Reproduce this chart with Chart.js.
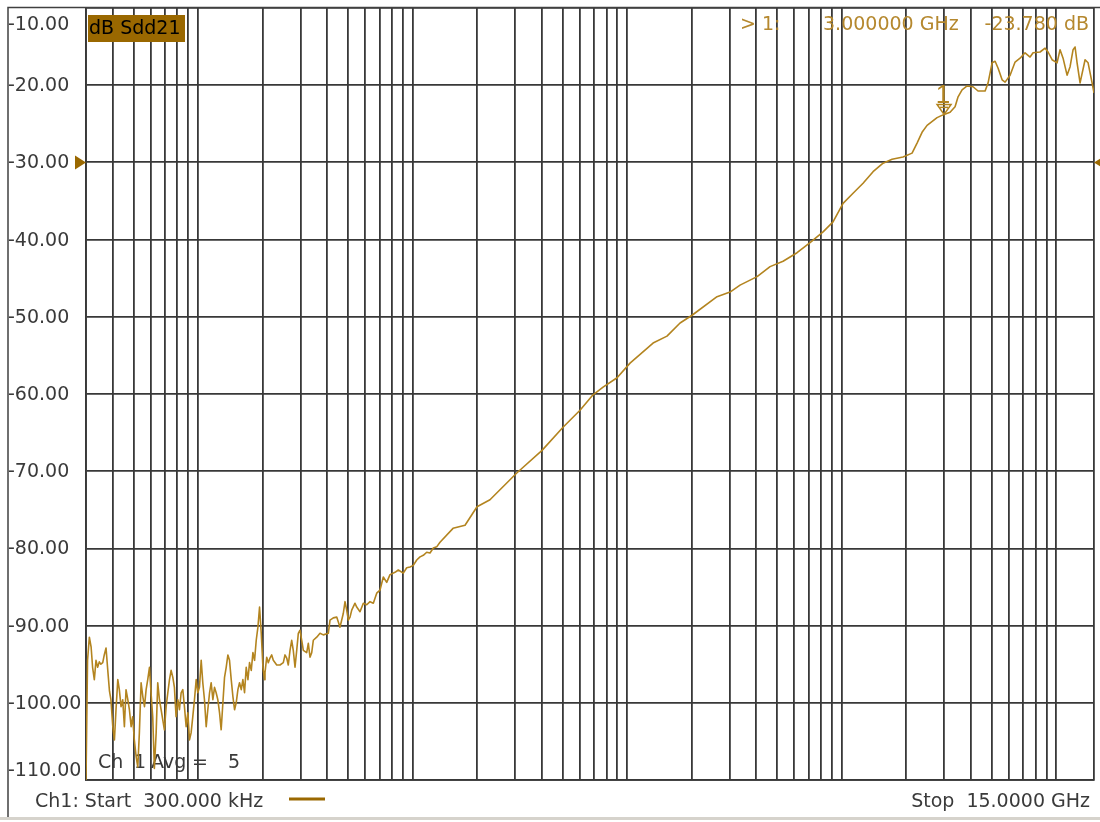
<!DOCTYPE html>
<html>
<head>
<meta charset="utf-8">
<script src="https://cdn.jsdelivr.net/npm/chart.js@4.4.1/dist/chart.umd.min.js"></script>
<style>
  html, body { margin: 0; padding: 0; background: #ffffff; overflow: hidden; }
  canvas { display: block; }
</style>
</head>
<body>
<canvas id="c" width="1100" height="822"></canvas>
<script>
// ---- data (frequency in MHz, Sdd21 in dB) ----
const freqMHz = [
  0.300,0.305,0.311,0.317,0.322,0.328,0.334,0.340,0.346,0.352,
  0.359,0.365,0.372,0.379,0.386,0.392,0.400,0.407,0.414,0.422,
  0.429,0.437,0.445,0.453,0.461,0.470,0.478,0.487,0.495,0.504,
  0.514,0.523,0.532,0.542,0.552,0.562,0.572,0.582,0.593,0.603,
  0.614,0.625,0.637,0.648,0.660,0.672,0.684,0.696,0.709,0.722,
  0.735,0.748,0.762,0.775,0.789,0.804,0.818,0.833,0.848,0.863,
  0.879,0.895,0.911,0.927,0.944,0.961,0.979,0.996,1.014,1.033,
  1.051,1.070,1.090,1.109,1.130,1.150,1.171,1.192,1.213,1.235,
  1.258,1.280,1.304,1.327,1.351,1.376,1.400,1.426,1.452,1.478,
  1.504,1.532,1.559,1.588,1.616,1.645,1.675,1.706,1.736,1.768,
  1.800,1.832,1.865,1.899,1.933,1.968,2.004,2.040,
  2.049,2.087,2.123,2.162,2.202,2.240,2.324,2.407,2.494,2.540,
  2.587,2.631,2.680,2.729,2.776,2.828,2.880,2.930,2.984,3.039,
  3.092,3.206,3.262,3.322,3.383,3.442,3.570,3.698,3.832,4.043,
  4.118,4.266,4.425,4.584,4.750,4.837,4.926,5.012,5.104,5.198,
  5.385,5.484,5.682,5.887,6.106,6.326,6.554,6.797,7.042,7.296,
  7.567,7.840,8.272,8.571,9.043,9.379,9.717,10.067,10.442,10.818,
  11.208,11.624,12.044,12.478,12.941,13.408,
  15.42,17.54,19.95,22.93,30.65,40.09,50.22,60.27,69.31,77.19,
  89.71,103.1,132.0,153.3,176.4,200.6,262.3,301.6,335.8,403.2,
  463.5,532.9,619.2,711.9,818.7,911.1,1014.6,1129.5,1257.6,1400,
  1559,1717,1931,2128,2245,2369,2500,2783,3000,3200,
  3376,3487,3640,3841,4095,4321,4660,4813,5024,5189,
  5359,5594,5777,6094,6429,6783,7157,7552,7800,8409,
  8872,9162,9564,10091,10420,10762,11235,11603,11983,12243,
  12509,12918,13631,14077,14696,15000
];
const sdd21dB = [
  -110.0,-94.5,-91.5,-92.8,-95.4,-97.0,-94.5,-95.4,-94.7,-95.0,
  -94.8,-93.8,-92.9,-95.8,-98.5,-99.6,-103.1,-104.8,-100.9,-97.0,
  -98.3,-100.5,-99.6,-103.1,-98.3,-99.6,-100.9,-103.1,-101.8,-104.8,
  -107.0,-108.3,-103.9,-97.4,-99.2,-100.5,-98.3,-97.0,-95.4,-98.7,
  -101.8,-108.5,-103.9,-97.4,-99.6,-100.9,-102.2,-103.5,-100.5,-98.7,
  -97.0,-95.8,-96.7,-98.0,-101.8,-99.6,-100.9,-98.7,-98.3,-100.5,
  -103.1,-101.3,-104.8,-103.9,-101.8,-99.6,-97.0,-98.7,-98.0,-94.5,
  -97.4,-99.6,-103.1,-100.9,-98.7,-97.4,-99.6,-98.0,-98.7,-99.6,
  -101.3,-103.5,-100.0,-96.7,-95.4,-93.8,-94.5,-97.0,-99.2,-100.9,
  -100.0,-98.3,-97.4,-98.3,-97.0,-98.7,-95.4,-97.0,-94.8,-95.8,
  -93.5,-94.5,-91.9,-90.2,-87.6,-91.0,-95.4,-97.0,
  -96.1,-94.1,-94.8,-94.2,-93.8,-94.5,-95.1,-95.1,-94.8,-93.8,
  -94.2,-95.1,-93.2,-91.9,-93.2,-95.4,-93.2,-91.0,-90.6,-91.9,
  -93.2,-93.5,-92.3,-94.1,-93.5,-91.9,-91.5,-91.0,-91.2,-91.0,
  -89.3,-89.0,-88.9,-90.2,-88.4,-86.9,-88.0,-89.3,-88.9,-88.0,
  -87.1,-87.6,-88.2,-87.1,-87.3,-86.9,-87.1,-85.8,-85.4,-83.7,
  -84.4,-83.4,-83.1,-82.8,-83.2,-82.5,-82.4,-82.2,-81.5,-81.1,
  -80.9,-80.5,-80.6,-79.95,-79.8,-79.2,
  -77.4,-77.0,-74.6,-73.7,-70.2,-67.3,-64.3,-62.1,-60.1,-59.1,
  -57.9,-56.0,-53.4,-52.5,-50.8,-49.8,-47.4,-46.8,-45.9,-44.8,
  -43.5,-42.8,-41.7,-40.4,-39.0,-37.7,-35.3,-34.0,-32.7,-31.2,
  -30.1,-29.6,-29.3,-28.8,-27.5,-26.1,-25.2,-24.2,-23.78,-23.5,
  -22.8,-21.5,-20.6,-20.1,-20.2,-20.75,-20.75,-19.7,-17.1,-16.9,
  -17.8,-19.3,-19.6,-18.7,-17.0,-16.5,-15.8,-16.35,-15.8,-15.7,
  -15.2,-15.7,-16.7,-17.1,-15.4,-16.5,-18.7,-17.6,-15.4,-15.05,
  -17.1,-19.7,-16.7,-17.1,-19.7,-21.0
];

// ---- axes / labels ----
const xMinMHz = 0.3, xMaxMHz = 15000;
const yMinDb = -110, yMaxDb = -10;
const yTickValues = [-10,-20,-30,-40,-50,-60,-70,-80,-90,-100,-110];
const gridDecadesMHz = [0.1, 1, 10, 100, 1000, 10000];
const gridMantissas = [1,2,3,4,5,6,7,8,9];
const refLevelDb = -30;
const markerFreqMHz = 3000, markerDb = -23.78, markerName = '1';
const readoutParts = ['> 1:', '3.000000 GHz', '-23.780 dB'];
const traceTitle = 'dB Sdd21';
const startText = 'Ch1: Start  300.000 kHz';
const stopText = 'Stop  15.0000 GHz';
const avgParts = ['Ch', '1', 'Avg', '=', '5'];

const TRACE = '#b3841f';
const READ = '#b5882e';
const GRID = '#383838';
const TEXT = '#3a3a3a';
const FONT = '19px "DejaVu Sans"';

const points = freqMHz.map((f, i) => ({ x: f, y: sdd21dB[i] }));
const xGrid = [];
gridDecadesMHz.forEach(d => gridMantissas.forEach(m => {
  const v = +(d * m).toPrecision(3);
  if (v >= xMinMHz && v <= xMaxMHz) xGrid.push(v);
}));
if (xGrid[0] !== xMinMHz) xGrid.unshift(xMinMHz);
xGrid.push(xMaxMHz);

const vnaPlugin = {
  id: 'vna',
  beforeDatasetsDraw(chart) {
    const ctx = chart.ctx;
    ctx.save();
    // trace title box
    ctx.fillStyle = '#9a6800';
    ctx.fillRect(88, 15, 97, 27);
    ctx.font = FONT;
    ctx.fillStyle = '#000000';
    ctx.textBaseline = 'middle';
    ctx.textAlign = 'left';
    ctx.fillText(traceTitle, 89, 29);
    // averaging annotation
    ctx.fillStyle = TEXT;
    const ax = [98, 134, 151, 192, 228];
    avgParts.forEach((t, i) => ctx.fillText(t, ax[i], 763));
    ctx.restore();
  },
  afterDraw(chart) {
    const ctx = chart.ctx;
    const xs = chart.scales.x, ys = chart.scales.y;
    const area = chart.chartArea;
    ctx.save();
    // outer frame
    ctx.strokeStyle = '#404040';
    ctx.lineWidth = 1.5;
    ctx.beginPath();
    ctx.moveTo(8, 818); ctx.lineTo(8, 7.5); ctx.lineTo(1100, 7.5);
    ctx.stroke();
    ctx.strokeStyle = '#d6d3cc';
    ctx.lineWidth = 3;
    ctx.beginPath();
    ctx.moveTo(0, 818.5); ctx.lineTo(1100, 818.5);
    ctx.stroke();

    // y labels
    ctx.font = FONT;
    ctx.fillStyle = TEXT;
    ctx.textAlign = 'left';
    ctx.textBaseline = 'middle';
    yTickValues.forEach(v => {
      let py = ys.getPixelForValue(v) + 1;
      py = Math.max(area.top + 17, Math.min(area.bottom - 9, py));
      ctx.fillText(v.toFixed(2), 8, py);
    });

    // reference level arrows
    const ry = ys.getPixelForValue(refLevelDb);
    ctx.fillStyle = '#9a6800';
    ctx.beginPath();
    ctx.moveTo(75, ry - 7); ctx.lineTo(86, ry); ctx.lineTo(75, ry + 7); ctx.closePath();
    ctx.fill();
    ctx.beginPath();
    ctx.moveTo(1094, ry); ctx.lineTo(1102, ry - 5); ctx.lineTo(1102, ry + 5); ctx.closePath();
    ctx.fill();

    // marker
    const mx = xs.getPixelForValue(markerFreqMHz);
    const my = ys.getPixelForValue(markerDb);
    ctx.strokeStyle = TRACE;
    ctx.lineWidth = 1.5;
    ctx.beginPath();
    ctx.moveTo(mx - 7, my - 10); ctx.lineTo(mx + 7, my - 10); ctx.lineTo(mx, my); ctx.closePath();
    ctx.stroke();
    ctx.beginPath();
    ctx.moveTo(mx - 4, my - 7); ctx.lineTo(mx + 4, my - 7);
    ctx.stroke();
    ctx.fillStyle = TRACE;
    ctx.font = '26px "Liberation Sans"';
    ctx.textAlign = 'center';
    ctx.textBaseline = 'alphabetic';
    ctx.fillText(markerName, mx - 1, my - 11);

    // marker readout
    ctx.font = FONT;
    ctx.fillStyle = READ;
    ctx.textAlign = 'left';
    ctx.textBaseline = 'middle';
    ctx.fillText(readoutParts[0], 740, 25);
    ctx.fillText(readoutParts[1], 823, 25);
    ctx.textAlign = 'right';
    ctx.fillText(readoutParts[2], 1089, 25);

    // bottom channel line
    ctx.fillStyle = TEXT;
    ctx.textAlign = 'left';
    ctx.fillText(startText, 35, 802);
    ctx.textAlign = 'right';
    ctx.fillText(stopText, 1090, 802);
    ctx.strokeStyle = '#9a6800';
    ctx.lineWidth = 3;
    ctx.beginPath();
    ctx.moveTo(289, 799); ctx.lineTo(325, 799);
    ctx.stroke();
    ctx.restore();
  }
};

new Chart(document.getElementById('c'), {
  type: 'line',
  data: {
    datasets: [{
      data: points,
      borderColor: TRACE,
      borderWidth: 1.6,
      borderJoinStyle: 'round',
      pointRadius: 0,
      tension: 0,
      fill: false
    }]
  },
  options: {
    responsive: false,
    animation: false,
    events: [],
    layout: { autoPadding: false, padding: { left: 86, right: 6, top: 8, bottom: 42 } },
    plugins: { legend: { display: false }, tooltip: { enabled: false }, title: { display: false } },
    scales: {
      x: {
        type: 'logarithmic',
        min: xMinMHz, max: xMaxMHz,
        afterBuildTicks: s => { s.ticks = xGrid.map(v => ({ value: v })); },
        afterFit: s => { s.height = 0; },
        ticks: { display: false },
        grid: { color: GRID, lineWidth: 1.8, drawTicks: false },
        border: { display: true, color: GRID, width: 1.8 }
      },
      y: {
        type: 'linear',
        min: yMinDb, max: yMaxDb,
        afterBuildTicks: s => { s.ticks = yTickValues.map(v => ({ value: v })); },
        afterFit: s => { s.width = 0; },
        ticks: { display: false },
        grid: { color: GRID, lineWidth: 1.8, drawTicks: false },
        border: { display: true, color: GRID, width: 1.8 }
      }
    }
  },
  plugins: [vnaPlugin]
});
</script>
</body>
</html>
